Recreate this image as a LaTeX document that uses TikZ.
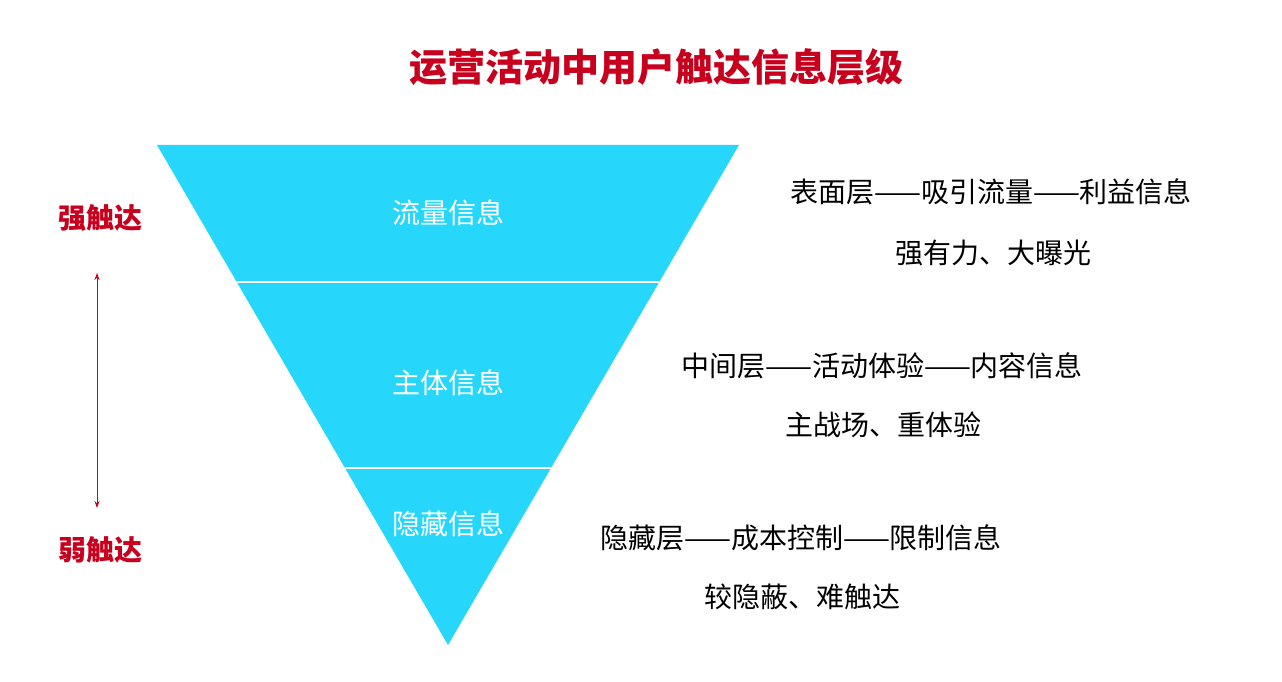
\documentclass[tikz,border=0pt]{standalone}
\usepackage{fontspec}
\newfontfamily\cjk{Noto Sans CJK SC}
\usetikzlibrary{arrows.meta}
\definecolor{tri}{HTML}{26D7FB}
\definecolor{rd}{HTML}{C8001E}
\begin{document}
\begin{tikzpicture}[x=1pt,y=-1pt,
  lbl/.style={font=\cjk\fontsize{28}{30}\selectfont,inner sep=0pt},
  inlbl/.style={lbl,text=white},
  sidelbl/.style={font=\cjk\bfseries\fontsize{28}{30}\selectfont,text=rd,inner sep=0pt}]
\useasboundingbox (0,0) rectangle (1282,682);
\fill[white] (0,0) rectangle (1282,682);
\fill[tri] (157,145) -- (739,145) -- (448,645) -- cycle;
\draw[white,line width=1.5pt] (237,282) -- (659,282);
\draw[white,line width=1.5pt] (345,468) -- (551,468);
\node[font=\cjk\bfseries\fontsize{38}{40}\selectfont,text=rd,inner sep=0pt] (title) at (656,67) {运营活动中用户触达信息层级};
\node[inlbl] (a) at (448,213) {流量信息};
\node[inlbl] (b) at (448,383) {主体信息};
\node[inlbl] (c) at (448,524) {隐藏信息};
\node[lbl] (a1) at (991,192) {表面层——吸引流量——利益信息};
\node[lbl] (a2) at (993,253) {强有力、大曝光};
\node[lbl] (b1) at (882,366) {中间层——活动体验——内容信息};
\node[lbl] (b2) at (883,425) {主战场、重体验};
\node[lbl] (c1) at (801,538) {隐藏层——成本控制——限制信息};
\node[lbl] (c2) at (802,597) {较隐蔽、难触达};
\node[sidelbl] (s) at (100,218) {强触达};
\node[sidelbl] (w) at (100,550) {弱触达};
\coordinate (t) at (97,273);
\coordinate (u) at (97,508);
\draw[rd,line width=1pt,{Stealth[length=7pt,width=5pt]}-{Stealth[length=7pt,width=5pt]}] (t) -- (u);
\end{tikzpicture}
\end{document}
